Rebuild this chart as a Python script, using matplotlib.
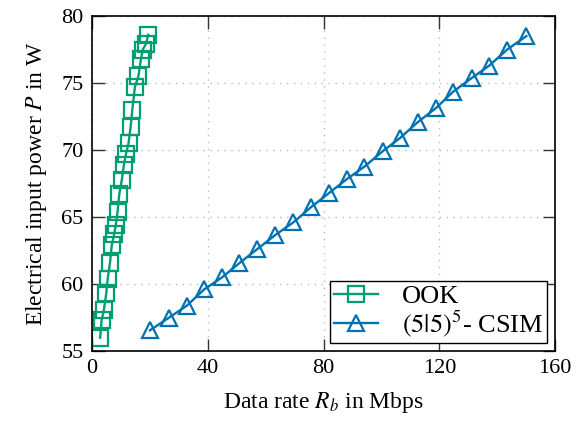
import matplotlib
matplotlib.use("Agg")
import matplotlib.pyplot as plt

plt.rcParams['font.family'] = ['Liberation Serif', 'DejaVu Serif']
plt.rcParams['mathtext.fontset'] = 'stix'

# OOK data (rate in Mbps, power in W)
ook_rate = [2.8, 3.3, 4.1, 4.9, 5.4, 6.2, 6.8, 7.6, 8.2, 8.8, 9.4, 10.3, 11.0, 11.7,
            12.6, 13.3, 13.9, 14.8, 16.0, 16.9, 17.5, 18.6, 19.4]
ook_power = [56.0, 57.3, 58.1, 59.3, 60.4, 61.6, 62.9, 63.7, 64.4, 65.4, 66.7, 67.8,
             68.9, 69.7, 70.5, 71.7, 73.0, 74.7, 75.5, 76.8, 77.5, 77.9, 78.6]

# (5|5)^5-CSIM data
csim_rate = [20.0, 26.6, 32.8, 38.7, 44.9, 50.8, 57.0, 63.2, 69.5, 75.7, 81.9,
             88.1, 94.0, 100.6, 106.4, 112.6, 118.9, 124.7, 131.3, 137.2, 143.4, 150.0]
csim_power = [56.55, 57.5, 58.4, 59.6, 60.5, 61.55, 62.6, 63.65, 64.6, 65.75, 66.8,
              67.85, 68.75, 69.95, 70.9, 72.1, 73.15, 74.35, 75.4, 76.3, 77.5, 78.5]

xticks = [0, 40, 80, 120, 160]
yticks = [55, 60, 65, 70, 75, 80]

green = '#009E73'
blue = '#0072B2'

fig = plt.figure(figsize=(5.79, 4.21), dpi=100)
ax = fig.add_axes([0.159, 0.166, 0.8, 0.796])

ax.plot(ook_rate, ook_power, color=green, lw=1.7, marker='s', markersize=12,
        markerfacecolor='none', markeredgewidth=1.6, label='OOK')
ax.plot(csim_rate, csim_power, color=blue, lw=1.7, marker='^', markersize=11,
        markerfacecolor='none', markeredgewidth=1.6, label=r'$(5|5)^5$- CSIM')

ax.set_xlim(0, 160)
ax.set_ylim(55, 80)
ax.set_xticks(xticks)
ax.set_yticks(yticks)
ax.tick_params(direction='in', top=True, right=True, length=9, width=1,
               color='#333333', labelsize=16, pad=6)
ax.grid(True, color='#bbbbbb', linestyle=(0, (1, 4)), linewidth=1)
for s in ax.spines.values():
    s.set_linewidth(1.2)

ax.set_xlabel(r'Data rate $R_b$ in Mbps', fontsize=17, labelpad=8)
ax.set_ylabel(r'Electrical input power $P$ in W', fontsize=17, labelpad=9)

leg = ax.legend(loc='lower right', fontsize=19, frameon=True, fancybox=False,
                edgecolor='black', framealpha=1, labelspacing=0.02,
                handlelength=1.7, handletextpad=0.9, borderpad=0.15,
                borderaxespad=0.3)
leg.get_frame().set_linewidth(1.0)

fig.savefig('out.png', dpi=100)
